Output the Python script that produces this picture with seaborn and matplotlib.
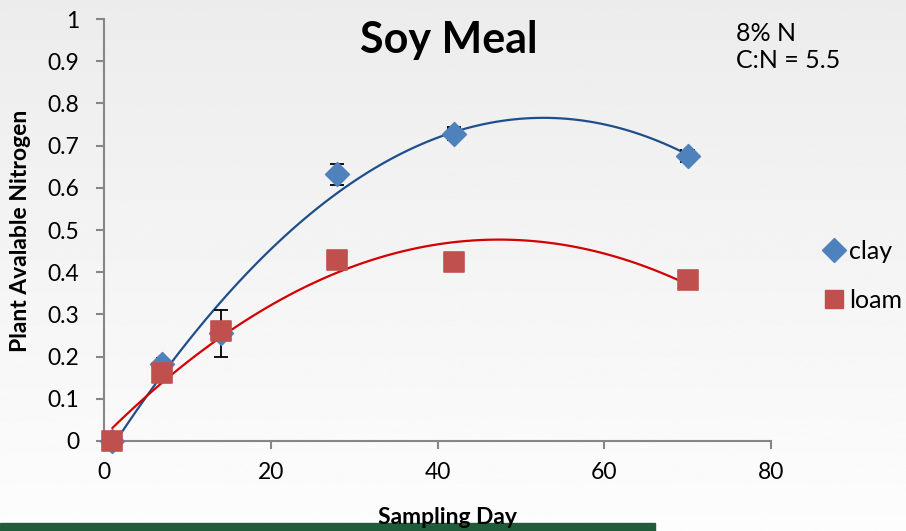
import matplotlib.pyplot as plt
import matplotlib.patches as mpatches
import matplotlib.lines as mlines
import numpy as np
import pandas as pd
import seaborn as sns

# data
days = [1, 7, 14, 28, 42, 70]
clay = [0.0, 0.182, 0.255, 0.632, 0.728, 0.676]
clay_err = [0.0, 0.01, 0.055, 0.025, 0.015, 0.008]
clay_xerr = [0.0, 0.6, 0.0, 0.0, 0.7, 0.8]
loam = [0.0, 0.160, 0.260, 0.430, 0.425, 0.382]

df = pd.DataFrame({"day": days, "clay": clay, "loam": loam})

sns.set_style("white")
plt.rcParams["font.family"] = ["Lato", "DejaVu Sans"]
plt.rcParams["text.color"] = "black"

fig = plt.figure(figsize=(9.06, 5.31), dpi=100)
# slide-like background gradient
bg = fig.add_axes([0, 0, 1, 1], zorder=-10)
grad = np.linspace(0.925, 0.99, 256).reshape(-1, 1)
bg.imshow(grad, cmap="gray", vmin=0, vmax=1, aspect="auto", extent=[0, 1, 0, 1])
bg.axis("off")
# green strip at bottom of slide
fig.patches.append(mpatches.Rectangle((0, 0), 0.723, 0.016, transform=fig.transFigure,
                                      color="#1f5c3a", zorder=-5))

ax = fig.add_axes([0.1148, 0.1695, 0.7362, 0.7947])
ax.set_facecolor("none")

blue_pt = "#4F81BD"
red_pt = "#C0504D"

# trend lines (2nd order polynomial)
sns.regplot(data=df, x="day", y="clay", order=2, ci=None, scatter=False, truncate=True,
            line_kws={"color": "#1F4E8C", "lw": 1.6}, ax=ax)
sns.regplot(data=df, x="day", y="loam", order=2, ci=None, scatter=False, truncate=True,
            line_kws={"color": "#D40000", "lw": 1.6}, ax=ax)

ax.errorbar(days, clay, yerr=clay_err, xerr=clay_xerr, fmt="none", ecolor="black",
            elinewidth=1.3, capsize=5, capthick=1.3, zorder=3)

sns.scatterplot(data=df, x="day", y="clay", marker="D", s=150, color=blue_pt,
                edgecolor=blue_pt, ax=ax, zorder=4, clip_on=False)
sns.scatterplot(data=df, x="day", y="loam", marker="s", s=215, color=red_pt,
                edgecolor=red_pt, ax=ax, zorder=5, clip_on=False)

ax.set_xlim(0, 80)
ax.set_ylim(0, 1)
ax.set_xticks([0, 20, 40, 60, 80])
ax.set_yticks(np.arange(0, 1.01, 0.1))
ax.set_yticklabels(["0"] + [f"{v:.1f}" for v in np.arange(0.1, 0.95, 0.1)] + ["1"])

for s in ["top", "right"]:
    ax.spines[s].set_visible(False)
for s in ["left", "bottom"]:
    ax.spines[s].set_color("#868686")
    ax.spines[s].set_linewidth(1.5)
ax.tick_params(axis="both", direction="out", length=6, width=1.5, color="#868686",
               labelsize=16.5, labelcolor="black", left=True, bottom=True)
ax.tick_params(axis="y", pad=12)
ax.tick_params(axis="x", pad=9)

ax.set_xlabel("")
ax.set_ylabel("")
fig.text(447 / 906, 1 - 517 / 531, "Sampling Day", fontsize=16.5, fontweight="bold",
         ha="center", va="center", color="black")
fig.text(21 / 906, 1 - 231 / 531, "Plant Avalable Nitrogen", fontsize=16.5,
         fontweight="bold", ha="center", va="center", rotation=90, color="black")

fig.text(449 / 906, 1 - 40 / 531, "Soy Meal", fontsize=31, fontweight="bold",
         ha="center", va="center", color="black")
fig.text(736 / 906, 1 - 47 / 531, "8% N\nC:N = 5.5", fontsize=18, ha="left", va="center",
         linespacing=1.25, color="black")

clay_h = mlines.Line2D([], [], color=blue_pt, marker="D", linestyle="None", markersize=12,
                       label="clay")
loam_h = mlines.Line2D([], [], color=red_pt, marker="s", linestyle="None", markersize=13,
                       label="loam")
fig.legend(handles=[clay_h, loam_h], loc="center left", bbox_to_anchor=(0.9, 0.48),
           frameon=False, fontsize=18, handlelength=0.7, handletextpad=0.25,
           labelspacing=1.05, borderaxespad=0, labelcolor="black")

fig.savefig("out.png", dpi=100)
